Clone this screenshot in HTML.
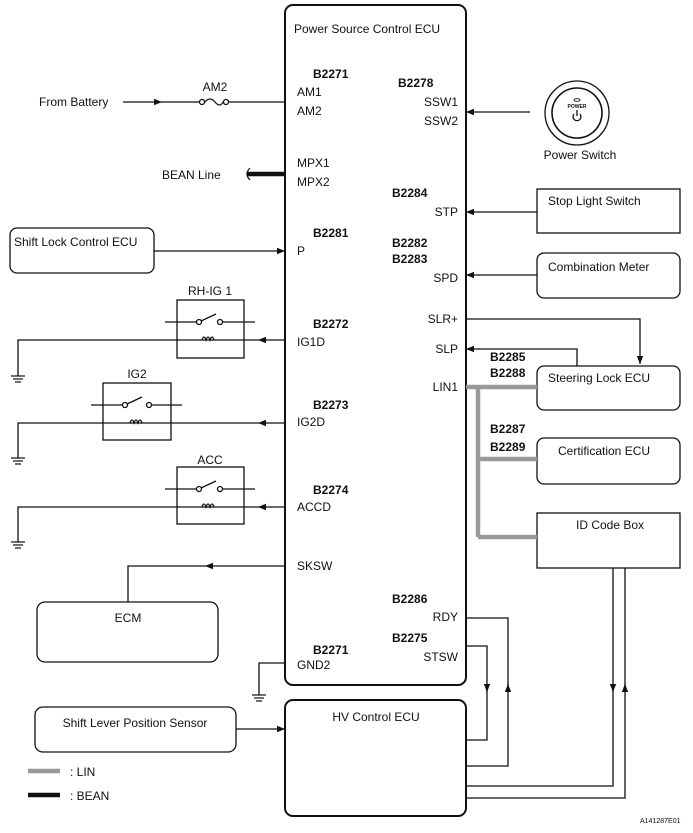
<!DOCTYPE html>
<html><head><meta charset="utf-8"><style>
html,body{margin:0;padding:0;background:#fff;}
svg{display:block;}
text{font-family:"Liberation Sans",sans-serif;font-size:12px;fill:#111;}
.b{font-weight:bold;}
</style></head><body>
<svg width="693" height="833" viewBox="0 0 693 833" xmlns="http://www.w3.org/2000/svg">
<defs>
<marker id="a" viewBox="0 0 10 10" refX="10" refY="5" markerWidth="13" markerHeight="8" orient="auto" markerUnits="userSpaceOnUse"><path d="M0,1 L10,5 L0,9 z" fill="#111"/></marker>
<g id="gnd"><line x1="-7" y1="0" x2="7" y2="0" stroke="#111" stroke-width="1.2"/><line x1="-5" y1="3" x2="5" y2="3" stroke="#111" stroke-width="1.2"/><line x1="-3" y1="6" x2="3" y2="6" stroke="#111" stroke-width="1.2"/></g>
</defs>
<g fill="none" stroke="#111" stroke-width="1.3">
<rect x="285" y="5" width="181" height="680" rx="8" stroke-width="2"/>
<rect x="285" y="700" width="181" height="116" rx="8" stroke-width="2"/>
<line x1="123" y1="102" x2="162" y2="102" marker-end="url(#a)"/>
<line x1="162" y1="102" x2="200" y2="102"/>
<circle cx="202" cy="102" r="2.5"/><circle cx="226" cy="102" r="2.5"/>
<path d="M205,102 q5,-6 10,0 q5,6 8,0"/>
<line x1="229" y1="102" x2="285" y2="102"/>
<line x1="247" y1="174" x2="285" y2="174" stroke-width="4.5"/>
<path d="M250,168 q-6,6 0,12" stroke-width="1.2"/>
<rect x="10" y="228" width="144" height="45" rx="7"/>
<line x1="154" y1="251" x2="285" y2="251" marker-end="url(#a)"/>
<rect x="177" y="300" width="67" height="58"/>
<line x1="165" y1="322" x2="196" y2="322"/><circle cx="199" cy="322" r="2.5"/><line x1="201" y1="321" x2="216" y2="314"/><circle cx="220" cy="322" r="2.5"/><line x1="223" y1="322" x2="255" y2="322"/>
<line x1="285" y1="340" x2="258" y2="340" marker-end="url(#a)"/>
<path d="M258,340 L18,340 L18,376"/>
<path d="M202,340 q2,-6 4,0 q2,-6 4,0 q2,-6 4,0"/>
<rect x="103" y="383" width="68" height="57"/>
<line x1="91" y1="405" x2="122" y2="405"/><circle cx="125" cy="405" r="2.5"/><line x1="127" y1="404" x2="142" y2="397"/><circle cx="149" cy="405" r="2.5"/><line x1="152" y1="405" x2="182" y2="405"/>
<line x1="285" y1="423" x2="258" y2="423" marker-end="url(#a)"/>
<path d="M258,423 L18,423 L18,458"/>
<path d="M130,423 q2,-6 4,0 q2,-6 4,0 q2,-6 4,0"/>
<rect x="177" y="467" width="67" height="57"/>
<line x1="165" y1="489" x2="196" y2="489"/><circle cx="199" cy="489" r="2.5"/><line x1="201" y1="488" x2="216" y2="481"/><circle cx="220" cy="489" r="2.5"/><line x1="223" y1="489" x2="255" y2="489"/>
<line x1="285" y1="507" x2="258" y2="507" marker-end="url(#a)"/>
<path d="M258,507 L18,507 L18,542"/>
<path d="M202,507 q2,-6 4,0 q2,-6 4,0 q2,-6 4,0"/>
<line x1="285" y1="566" x2="205" y2="566" marker-end="url(#a)"/>
<path d="M205,566 L128,566 L128,602"/>
<rect x="37" y="602" width="181" height="60" rx="8"/>
<path d="M285,663 L259,663 L259,695"/>
<rect x="35" y="707" width="201" height="45" rx="8"/>
<line x1="236" y1="729" x2="285" y2="729" marker-end="url(#a)"/>
<line x1="530" y1="112" x2="466" y2="112" marker-end="url(#a)"/>
<circle cx="577" cy="113" r="32"/><circle cx="577" cy="113" r="25" stroke-width="1.6"/>
<ellipse cx="577" cy="100" rx="3" ry="1.3" stroke-width="0.8"/>
<path d="M574,114 a4,4 0 1 0 6,0" stroke-width="1.3"/><line x1="577" y1="110" x2="577" y2="116"/>
<rect x="537" y="189" width="143" height="44"/>
<line x1="537" y1="212" x2="466" y2="212" marker-end="url(#a)"/>
<rect x="537" y="253" width="143" height="45" rx="7"/>
<line x1="537" y1="275" x2="466" y2="275" marker-end="url(#a)"/>
<path d="M466,319 L640,319 L640,364" marker-end="url(#a)"/>
<path d="M577,366 L577,349 L466,349" marker-end="url(#a)"/>
<rect x="537" y="366" width="143" height="44" rx="7"/>
<rect x="537" y="438" width="143" height="46" rx="7"/>
<rect x="537" y="513" width="143" height="55"/>
<g stroke="#999" stroke-width="4.5">
<line x1="466" y1="387" x2="537" y2="387"/>
<line x1="478" y1="387" x2="478" y2="537"/>
<line x1="478" y1="459" x2="537" y2="459"/>
<line x1="478" y1="537" x2="537" y2="537"/>
</g>
<path d="M613,568 L613,692" marker-end="url(#a)"/>
<path d="M613,686 L613,786 L466,786"/>
<path d="M466,798 L625,798 L625,684" marker-end="url(#a)"/>
<path d="M625,690 L625,568"/>
<path d="M466,766 L508,766 L508,684" marker-end="url(#a)"/>
<path d="M508,690 L508,618 L466,618"/>
<path d="M466,646 L487,646 L487,692" marker-end="url(#a)"/>
<path d="M487,686 L487,740 L466,740"/>
<line x1="28" y1="771" x2="60" y2="771" stroke="#999" stroke-width="4.5"/>
<line x1="28" y1="795" x2="60" y2="795" stroke-width="4.5"/>
</g>
<use href="#gnd" x="18" y="376"/><use href="#gnd" x="18" y="458"/><use href="#gnd" x="18" y="542"/><use href="#gnd" x="259" y="695"/>
<text x="294" y="33">Power Source Control ECU</text>
<text x="313" y="78" class="b">B2271</text><text x="297" y="96">AM1</text><text x="297" y="115">AM2</text>
<text x="398" y="87" class="b">B2278</text><text x="458" y="106" text-anchor="end">SSW1</text><text x="458" y="125" text-anchor="end">SSW2</text>
<text x="297" y="167">MPX1</text><text x="297" y="186">MPX2</text>
<text x="392" y="197" class="b">B2284</text><text x="458" y="216" text-anchor="end">STP</text>
<text x="313" y="237" class="b">B2281</text><text x="297" y="255">P</text>
<text x="392" y="247" class="b">B2282</text><text x="392" y="263" class="b">B2283</text><text x="458" y="282" text-anchor="end">SPD</text>
<text x="458" y="323" text-anchor="end">SLR+</text><text x="458" y="353" text-anchor="end">SLP</text><text x="458" y="391" text-anchor="end">LIN1</text>
<text x="313" y="328" class="b">B2272</text><text x="297" y="346">IG1D</text>
<text x="313" y="409" class="b">B2273</text><text x="297" y="426">IG2D</text>
<text x="313" y="494" class="b">B2274</text><text x="297" y="511">ACCD</text>
<text x="297" y="570">SKSW</text>
<text x="392" y="603" class="b">B2286</text><text x="458" y="621" text-anchor="end">RDY</text>
<text x="392" y="642" class="b">B2275</text><text x="458" y="661" text-anchor="end">STSW</text>
<text x="313" y="654" class="b">B2271</text><text x="297" y="669">GND2</text>
<text x="376" y="721" text-anchor="middle">HV Control ECU</text>
<text x="39" y="106">From Battery</text><text x="215" y="91" text-anchor="middle">AM2</text>
<text x="162" y="179">BEAN Line</text>
<text x="14" y="246">Shift Lock Control ECU</text>
<text x="210" y="295" text-anchor="middle">RH-IG 1</text><text x="137" y="378" text-anchor="middle">IG2</text><text x="210" y="464" text-anchor="middle">ACC</text>
<text x="128" y="622" text-anchor="middle">ECM</text>
<text x="135" y="727" text-anchor="middle">Shift Lever Position Sensor</text>
<text x="70" y="776">: LIN</text><text x="70" y="800">: BEAN</text>
<text x="577" y="108" text-anchor="middle" style="font-size:5px;font-weight:bold">POWER</text>
<text x="580" y="159" text-anchor="middle">Power Switch</text>
<text x="548" y="205">Stop Light Switch</text>
<text x="548" y="271">Combination Meter</text>
<text x="548" y="382">Steering Lock ECU</text>
<text x="558" y="455">Certification ECU</text>
<text x="576" y="529">ID Code Box</text>
<text x="490" y="361" class="b">B2285</text><text x="490" y="377" class="b">B2288</text>
<text x="490" y="433" class="b">B2287</text><text x="490" y="451" class="b">B2289</text>
<text x="640" y="823" style="font-size:7px">A141287E01</text>
</svg>
</body></html>
